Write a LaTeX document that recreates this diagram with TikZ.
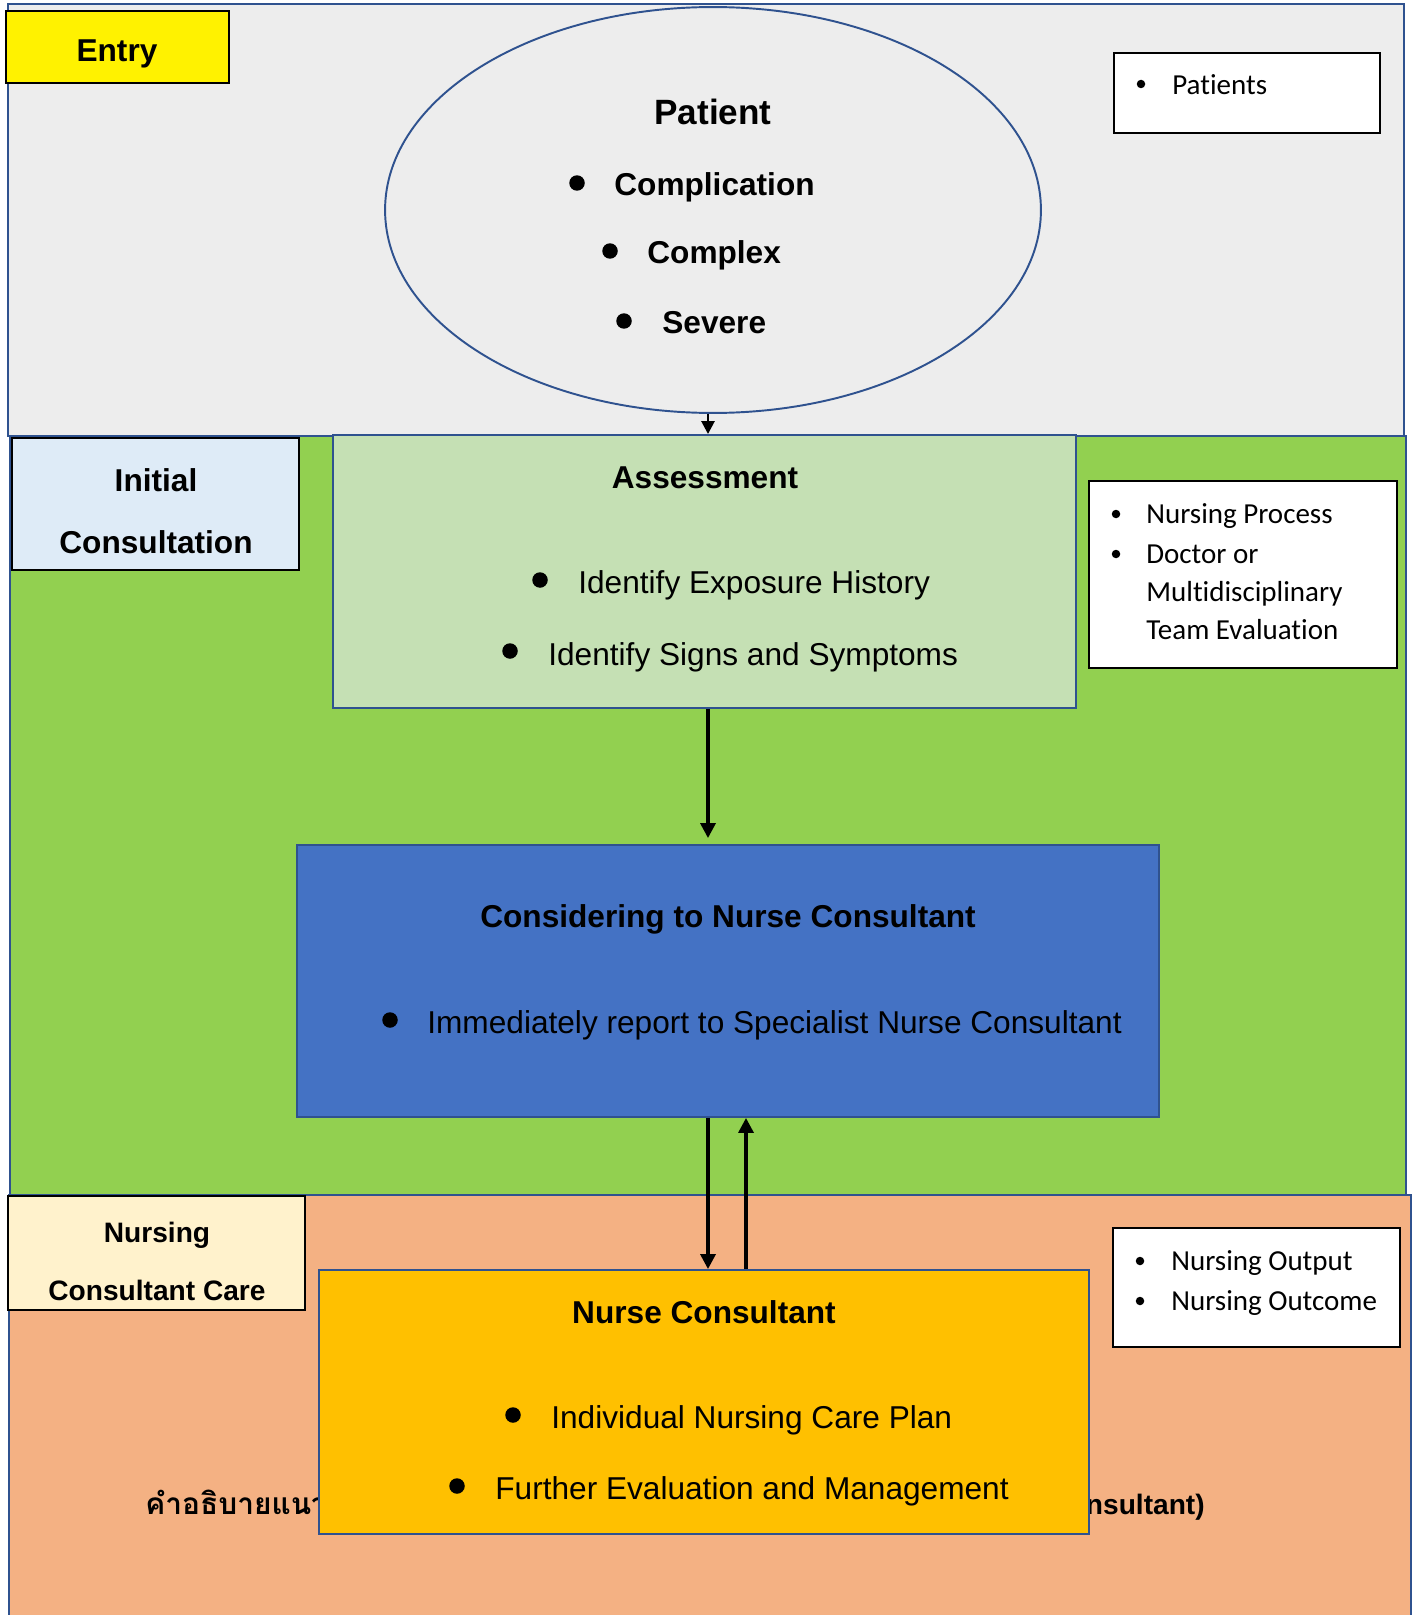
\documentclass[tikz,border=0pt]{standalone}
\usepackage{fontspec}
\setmainfont{Liberation Sans}
\newfontfamily\calfont[Ligatures=NoCommon]{Carlito}
\newfontfamily\thaifont[Script=Thai]{Loma}
\usetikzlibrary{shapes.geometric,arrows.meta}
\definecolor{panelgray}{HTML}{EDEDED}
\definecolor{panelgreen}{HTML}{92D050}
\definecolor{panelorange}{HTML}{F4B183}
\definecolor{rimblue}{HTML}{2F528F}
\definecolor{assessgreen}{HTML}{C5E0B4}
\definecolor{considblue}{HTML}{4472C4}
\definecolor{nurseamber}{HTML}{FFC000}
\definecolor{tagblue}{HTML}{DEEBF7}
\definecolor{tagcream}{HTML}{FFF2CC}
\begin{document}
\begin{tikzpicture}[x=0.02cm,y=-0.02cm,
    panel/.style={draw=rimblue,line width=1.1pt},
    tag/.style={draw=black,line width=0.8pt},
    titletxt/.style={font=\fontsize{18}{22}\selectfont\bfseries,inner sep=0pt},
    bodytxt/.style={font=\fontsize{18}{22}\selectfont,inner sep=0pt,anchor=west,text height=0.72em,text depth=0.2em,yshift=-0.14cm},
    boldtxt/.style={bodytxt,font=\fontsize{18}{22}\selectfont\bfseries},
    notetxt/.style={font=\calfont\fontsize{16.5}{20}\selectfont,inner sep=0pt,anchor=west,text height=0.72em,text depth=0.2em,yshift=-0.11cm},
    dot/.style={inner sep=0pt,minimum size=0.31cm,fill,circle},
    smalldot/.style={inner sep=0pt,minimum size=0.17cm,fill,circle},
    arr/.style={line width=1.9pt,-{Triangle[length=0.3cm,width=0.3cm]}}]
                \useasboundingbox (0,0) rectangle (1414,1615);
                % three stages
                \filldraw[panel,fill=panelgray] (8,4) rectangle (1404,436);
                \filldraw[panel,fill=panelgreen] (10,436) rectangle (1406,1195);
                \fill[panelorange] (9,1195) rectangle (1411,1620);
                \draw[panel] (9,1620) -- (9,1195) -- (1411,1195) -- (1411,1620);

                % stage tags
                \draw[tag,fill=yellow] (6,11) rectangle (229,83);
                \node[titletxt] (entry) at (117,54) {Entry};
                \draw[tag,fill=tagblue] (12,438) rectangle (299,570);
                \node[titletxt] (initA) at (156,480) {Initial};
                \node[titletxt] (initB) at (156,542) {Consultation};
                \draw[tag,fill=tagcream] (8,1196) rectangle (305,1310);
                \node[titletxt,font=\fontsize{16}{20}\selectfont\bfseries] (careA) at (157,1235) {Nursing};
                \node[titletxt,font=\fontsize{16}{20}\selectfont\bfseries] (careB) at (157,1290) {Consultant Care};

                % notes on the right
                \draw[tag,fill=white] (1114,53) rectangle (1380,133);
                \node[smalldot] at (1141,84) {};
                \node[notetxt] (noteA) at (1172,84) {Patients};
                \draw[tag,fill=white] (1089,481) rectangle (1397,668);
                \node[smalldot] at (1116,514) {};
                \node[notetxt] (noteB) at (1146,513) {Nursing Process};
                \node[smalldot] at (1116,554) {};
                \node[notetxt] (noteC) at (1146,553) {Doctor or};
                \node[notetxt] (noteD) at (1146,591) {Multidisciplinary};
                \node[notetxt] (noteE) at (1146,629) {Team Evaluation};
                \draw[tag,fill=white] (1113,1228) rectangle (1400,1347);
                \node[smalldot] at (1140,1261) {};
                \node[notetxt] (noteF) at (1171,1260) {Nursing Output};
                \node[smalldot] at (1140,1301) {};
                \node[notetxt] (noteG) at (1171,1300) {Nursing Outcome};

                % caption partly under the last box
                \node[anchor=west,inner sep=0pt,font=\thaifont\fontsize{17}{20}\selectfont\bfseries] (capL) at (145,1502) {คำอธิบายแนว};
                \node[anchor=east,inner sep=0pt,font=\fontsize{16}{20}\selectfont\bfseries] (capR) at (1205,1507) {nsultant)};

                % main flow
                \node[ellipse,draw=rimblue,line width=1.1pt,fill=panelgray,minimum width=13.12cm,minimum height=8.12cm] (pat) at (713,210) {};
                \node[titletxt,font=\fontsize{20}{24}\selectfont\bfseries] (patT) at (713,112) {Patient};
                \node[dot] at (577,183) {};
                \node[boldtxt] (patA) at (614,184) {Complication};
                \node[dot] at (610,251) {};
                \node[boldtxt] (patB) at (647,252) {Complex};
                \node[dot] at (624,321) {};
                \node[boldtxt] (patC) at (662,322) {Severe};

                \node[rectangle,draw=rimblue,line width=1.1pt,fill=assessgreen,minimum width=14.86cm,minimum height=5.46cm] (assess) at (704.5,571.5) {};
                \node[titletxt] (assessT) at (705,478) {Assessment};
                \node[dot] at (540,580) {};
                \node[bodytxt] (assessA) at (578,582) {Identify Exposure History};
                \node[dot] at (510,651) {};
                \node[bodytxt] (assessB) at (548,654) {Identify Signs and Symptoms};

                \node[rectangle,draw=rimblue,line width=1.1pt,fill=considblue,minimum width=17.24cm,minimum height=5.44cm] (consid) at (728,981) {};
                \node[titletxt] (considT) at (728,919) {Considering to Nurse Consultant};
                \node[dot] at (390,1020) {};
                \node[bodytxt] (considA) at (427,1022) {Immediately report to Specialist Nurse Consultant};

                \node[rectangle,draw=rimblue,line width=1.1pt,fill=nurseamber,minimum width=15.4cm,minimum height=5.28cm] (nurse) at (704,1402) {};
                \node[titletxt] (nurseT) at (704,1312) {Nurse Consultant};
                \node[dot] at (513,1415) {};
                \node[bodytxt] (nurseA) at (551,1417) {Individual Nursing Care Plan};
                \node[dot] at (457,1486) {};
                \node[bodytxt] (nurseB) at (495,1488) {Further Evaluation and Management};

                % connectors
                \coordinate (dn) at (708,0);
                \coordinate (up) at (746,0);
                \draw[arr,line width=1.5pt,-{Triangle[length=0.26cm,width=0.26cm]}] (pat.south -| dn) -- (assess.north -| dn);
                \draw[arr,shorten >=0.12cm] (assess.south -| dn) -- (consid.north -| dn);
                \draw[arr] (consid.south -| dn) -- (nurse.north -| dn);
                \draw[arr] (nurse.north -| up) -- (consid.south -| up);

                \end{tikzpicture}
\end{document}
